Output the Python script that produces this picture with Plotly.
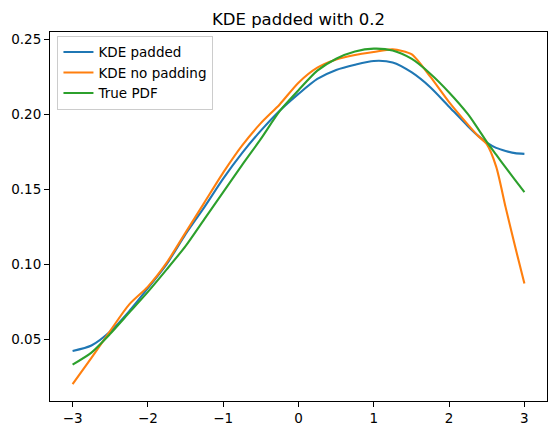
import plotly.graph_objects as go

# values
x = [-3, -2.75, -2.5, -2.25, -2, -1.75, -1.5, -1.25, -1, -0.75, -0.5, -0.25,
     0, 0.25, 0.5, 0.75, 1, 1.25, 1.5, 1.75, 2, 2.25, 2.375, 2.5, 2.625, 2.75, 2.875, 3]

kde_padded = [0.042, 0.0457, 0.055, 0.0685, 0.084, 0.100, 0.120, 0.138, 0.157,
              0.174, 0.189, 0.2023, 0.2135, 0.2235, 0.2295, 0.233, 0.2355, 0.2345,
              0.228, 0.218, 0.205, 0.192, 0.186, 0.181, 0.1775, 0.1755, 0.174, 0.1735]

kde_no_padding = [0.020, 0.0375, 0.0555, 0.073, 0.085, 0.101, 0.121, 0.141, 0.161,
                  0.179, 0.194, 0.2065, 0.221, 0.231, 0.2365, 0.2395, 0.2415, 0.2432,
                  0.240, 0.225, 0.208, 0.193, 0.186, 0.180, 0.165, 0.138, 0.112, 0.087]

true_pdf = [0.033, 0.041, 0.0535, 0.0675, 0.0815, 0.0965, 0.112, 0.130, 0.148,
            0.166, 0.1835, 0.202, 0.216, 0.229, 0.237, 0.2418, 0.2437, 0.2425,
            0.237, 0.227, 0.2145, 0.200, 0.191, 0.1815, 0.173, 0.1645, 0.1562, 0.148]

series = [
    ("KDE padded", kde_padded, "#1f77b4"),
    ("KDE no padding", kde_no_padding, "#ff7f0e"),
    ("True PDF", true_pdf, "#2ca02c"),
]

fig = go.Figure()
for name, vals, col in series:
    fig.add_trace(go.Scatter(x=x, y=vals, mode="lines", name=name,
                             line=dict(color=col, width=2.1, shape="spline", smoothing=0.7)))

axis_style = dict(showline=True, linecolor="black", linewidth=1.1, mirror=True,
                  ticks="outside", ticklen=5, tickwidth=1.1, tickcolor="black",
                  showgrid=False, zeroline=False, automargin=False,
                  tickfont=dict(family="DejaVu Sans", size=13.5, color="black"))

fig.update_xaxes(range=[-3.3, 3.3], tickvals=[-3, -2, -1, 0, 1, 2, 3],
                 ticktext=["\u22123", "\u22122", "\u22121", "0", "1", "2", "3"], **axis_style)
fig.update_yaxes(range=[0.0087, 0.2548], tickvals=[0.05, 0.10, 0.15, 0.20, 0.25],
                 tickformat=".2f", **axis_style)

# the page body has an 8px margin, so the figure is made 16px smaller
fig.update_layout(
    width=540, height=419,
    margin=dict(l=42, r=1, t=24, b=26),
    paper_bgcolor="white", plot_bgcolor="white",
    font=dict(family="DejaVu Sans", color="black"),
    title=dict(text="KDE padded with 0.2", x=0.5, xref="paper", xanchor="center",
               y=1, yref="paper", yanchor="bottom", pad=dict(b=7),
               font=dict(family="DejaVu Sans", size=16.5, color="black")),
    legend=dict(x=0.015, y=0.99, xanchor="left", yanchor="top",
                bgcolor="rgba(255,255,255,0.8)", bordercolor="#cccccc", borderwidth=1,
                font=dict(family="DejaVu Sans", size=13.5, color="black"),
                tracegroupgap=0),
    showlegend=True,
)

fig.write_html("out.html")
